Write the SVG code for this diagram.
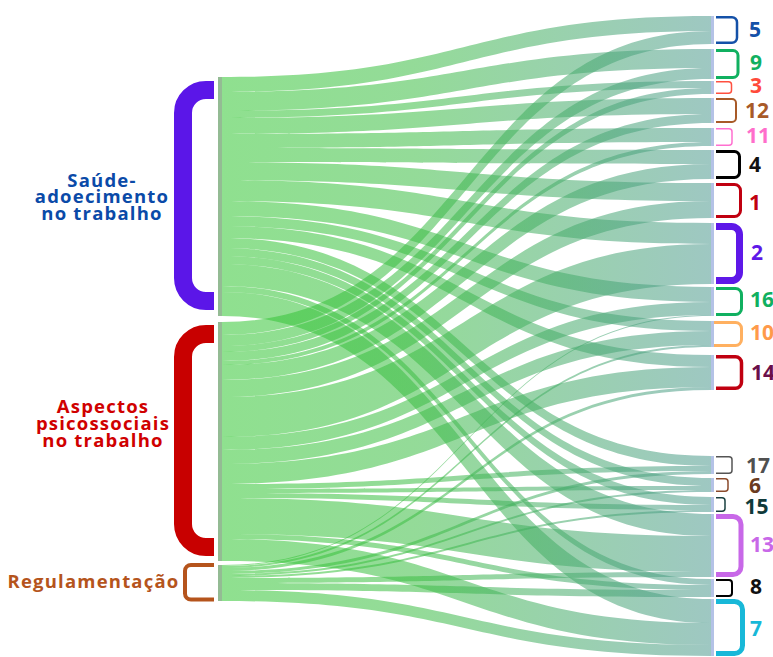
<svg xmlns="http://www.w3.org/2000/svg" width="773" height="657" viewBox="0 0 773 657">
<style>
.lk{fill:url(#lg);fill-opacity:0.55}
.lb{fill:#94bb94}
.rb{fill:#b4c2e6}
.br{fill:none;stroke-linecap:butt}
.t{font-family:"Open Sans","Noto Sans","Liberation Sans",sans-serif;font-weight:700}
.ll{font-size:18.5px;letter-spacing:1.2px;text-anchor:middle}
.rl{font-size:21px}
</style>
<defs>
<linearGradient id="lg" gradientUnits="userSpaceOnUse" x1="222" y1="0" x2="711" y2="0">
<stop offset="0" stop-color="#33c733"/>
<stop offset="0.4" stop-color="#3cbd44"/>
<stop offset="1" stop-color="#4f9a90"/>
</linearGradient>
</defs>
<g id="links">
<path class="lk" d="M222,77 C466.5,77 466.5,16 711,16 L711,31 C466.5,31 466.5,92 222,92 Z"/>
<path class="lk" d="M222,92 C466.5,92 466.5,49 711,49 L711,68 C466.5,68 466.5,111 222,111 Z"/>
<path class="lk" d="M222,111 C466.5,111 466.5,81 711,81 L711,88 C466.5,88 466.5,118 222,118 Z"/>
<path class="lk" d="M222,118 C466.5,118 466.5,98 711,98 L711,114 C466.5,114 466.5,134 222,134 Z"/>
<path class="lk" d="M222,134 C466.5,134 466.5,128 711,128 L711,142 C466.5,142 466.5,148 222,148 Z"/>
<path class="lk" d="M222,148 C466.5,148 466.5,150 711,150 L711,164 C466.5,164 466.5,162 222,162 Z"/>
<path class="lk" d="M222,162 C466.5,162 466.5,183 711,183 L711,201 C466.5,201 466.5,180 222,180 Z"/>
<path class="lk" d="M222,180 C466.5,180 466.5,223 711,223 L711,244 C466.5,244 466.5,201 222,201 Z"/>
<path class="lk" d="M222,201 C466.5,201 466.5,287 711,287 L711,302 C466.5,302 466.5,216 222,216 Z"/>
<path class="lk" d="M222,216 C466.5,216 466.5,321 711,321 L711,331 C466.5,331 466.5,226 222,226 Z"/>
<path class="lk" d="M222,226 C466.5,226 466.5,355 711,355 L711,367 C466.5,367 466.5,238 222,238 Z"/>
<path class="lk" d="M222,238 C466.5,238 466.5,456 711,456 L711,466 C466.5,466 466.5,248 222,248 Z"/>
<path class="lk" d="M222,248 C466.5,248 466.5,478 711,478 L711,486 C466.5,486 466.5,256 222,256 Z"/>
<path class="lk" d="M222,256 C466.5,256 466.5,497 711,497 L711,505 C466.5,505 466.5,264 222,264 Z"/>
<path class="lk" d="M222,264 C466.5,264 466.5,514 711,514 L711,536 C466.5,536 466.5,286 222,286 Z"/>
<path class="lk" d="M222,286 C466.5,286 466.5,579 711,579 L711,585 C466.5,585 466.5,292 222,292 Z"/>
<path class="lk" d="M222,292 C466.5,292 466.5,599 711,599 L711,623 C466.5,623 466.5,316 222,316 Z"/>
<path class="lk" d="M222,322 C466.5,322 466.5,31 711,31 L711,44 C466.5,44 466.5,335 222,335 Z"/>
<path class="lk" d="M222,335 C466.5,335 466.5,68 711,68 L711,79 C466.5,79 466.5,346 222,346 Z"/>
<path class="lk" d="M222,346 C466.5,346 466.5,88 711,88 L711,94 C466.5,94 466.5,352 222,352 Z"/>
<path class="lk" d="M222,352 C466.5,352 466.5,114 711,114 L711,123 C466.5,123 466.5,361 222,361 Z"/>
<path class="lk" d="M222,361 C466.5,361 466.5,142 711,142 L711,146 C466.5,146 466.5,365 222,365 Z"/>
<path class="lk" d="M222,365 C466.5,365 466.5,164 711,164 L711,179 C466.5,179 466.5,380 222,380 Z"/>
<path class="lk" d="M222,380 C466.5,380 466.5,201 711,201 L711,218 C466.5,218 466.5,397 222,397 Z"/>
<path class="lk" d="M222,397 C466.5,397 466.5,244 711,244 L711,284 C466.5,284 466.5,437 222,437 Z"/>
<path class="lk" d="M222,437 C466.5,437 466.5,302 711,302 L711,315 C466.5,315 466.5,450 222,450 Z"/>
<path class="lk" d="M222,450 C466.5,450 466.5,331 711,331 L711,345 C466.5,345 466.5,464 222,464 Z"/>
<path class="lk" d="M222,464 C466.5,464 466.5,367 711,367 L711,387 C466.5,387 466.5,484 222,484 Z"/>
<path class="lk" d="M222,484 C466.5,484 466.5,466 711,466 L711,471 C466.5,471 466.5,489 222,489 Z"/>
<path class="lk" d="M222,489 C466.5,489 466.5,486 711,486 L711,490 C466.5,490 466.5,493 222,493 Z"/>
<path class="lk" d="M222,493 C466.5,493 466.5,505 711,505 L711,510 C466.5,510 466.5,498 222,498 Z"/>
<path class="lk" d="M222,498 C466.5,498 466.5,536 711,536 L711,572 C466.5,572 466.5,534 222,534 Z"/>
<path class="lk" d="M222,534 C466.5,534 466.5,585 711,585 L711,590 C466.5,590 466.5,539 222,539 Z"/>
<path class="lk" d="M222,539 C466.5,539 466.5,623 711,623 L711,645 C466.5,645 466.5,561 222,561 Z"/>
<path class="lk" d="M222,565 C466.5,565 466.5,315 711,315 L711,316 C466.5,316 466.5,566 222,566 Z"/>
<path class="lk" d="M222,566 C466.5,566 466.5,345 711,345 L711,347 C466.5,347 466.5,568 222,568 Z"/>
<path class="lk" d="M222,568 C466.5,568 466.5,387 711,387 L711,390 C466.5,390 466.5,571 222,571 Z"/>
<path class="lk" d="M222,571 C466.5,571 466.5,471 711,471 L711,474 C466.5,474 466.5,574 222,574 Z"/>
<path class="lk" d="M222,574 C466.5,574 466.5,490 711,490 L711,492 C466.5,492 466.5,576 222,576 Z"/>
<path class="lk" d="M222,576 C466.5,576 466.5,510 711,510 L711,512 C466.5,512 466.5,578 222,578 Z"/>
<path class="lk" d="M222,578 C466.5,578 466.5,572 711,572 L711,577 C466.5,577 466.5,583 222,583 Z"/>
<path class="lk" d="M222,583 C466.5,583 466.5,590 711,590 L711,597 C466.5,597 466.5,590 222,590 Z"/>
<path class="lk" d="M222,590 C466.5,590 466.5,645 711,645 L711,656 C466.5,656 466.5,601 222,601 Z"/>
</g>
<g id="saude">
<rect class="lb" x="218" y="77" width="4" height="239"/>
<path class="br" stroke="#5b16e8" stroke-width="18" d="M214,90 H206 A23,23 0 0 0 183,113 V278 A23,23 0 0 0 206,301 H214"/>
<text class="t ll" fill="#0a4aa8"><tspan x="102" y="186.5">Saúde-</tspan><tspan x="102" y="203">adoecimento</tspan><tspan x="102" y="219.5">no trabalho</tspan></text>
</g>
<g id="aspectos">
<rect class="lb" x="218" y="322" width="4" height="239"/>
<path class="br" stroke="#c80000" stroke-width="18" d="M214,334 H206 A23,23 0 0 0 183,357 V524 A23,23 0 0 0 206,547 H214"/>
<text class="t ll" fill="#d00000"><tspan x="103" y="413">Aspectos</tspan><tspan x="103" y="430">psicossociais</tspan><tspan x="103" y="447">no trabalho</tspan></text>
</g>
<g id="regulamentacao">
<rect class="lb" x="218" y="565" width="4" height="36"/>
<path class="br" stroke="#b5541c" stroke-width="4" d="M214,565 H191 A6,6 0 0 0 185,571 V593.5 A6,6 0 0 0 191,599.5 H214"/>
<text class="t ll" fill="#b5541c" x="93.5" y="588">Regulamentação</text>
</g>
<g id="n5"><rect class="rb" x="711" y="16" width="3" height="28"/><path class="br" stroke="#1451a8" stroke-width="2.5" d="M716,17.25 H732 A5,5 0 0 1 737,22.25 V37.75 A5,5 0 0 1 732,42.75 H716"/><text class="t rl" fill="#1451a8" x="749" y="37" font-size="16">5</text></g>
<g id="n9"><rect class="rb" x="711" y="49" width="3" height="30"/><path class="br" stroke="#10b060" stroke-width="3" d="M716,50.5 H733 A5,5 0 0 1 738,55.5 V72.5 A5,5 0 0 1 733,77.5 H716"/><text class="t rl" fill="#10b060" x="750" y="70" font-size="18.5">9</text></g>
<g id="n3"><rect class="rb" x="711" y="81" width="3" height="13"/><path class="br" stroke="#ff5040" stroke-width="1.5" d="M716,81.75 H728.5 A3,3 0 0 1 731.5,84.75 V90.25 A3,3 0 0 1 728.5,93.25 H716"/><text class="t rl" fill="#ff4a3a" x="750" y="93" font-size="16">3</text></g>
<g id="n12"><rect class="rb" x="711" y="98" width="3" height="25"/><path class="br" stroke="#a85a28" stroke-width="2" d="M716,99 H732 A4,4 0 0 1 736,103 V118 A4,4 0 0 1 732,122 H716"/><text class="t rl" fill="#a85a28" x="745" y="118">12</text></g>
<g id="n11"><rect class="rb" x="711" y="128" width="3" height="18"/><path class="br" stroke="#ff70d0" stroke-width="1.5" d="M716,128.75 H729 A3,3 0 0 1 732,131.75 V142.25 A3,3 0 0 1 729,145.25 H716"/><text class="t rl" fill="#ff6ecb" x="746" y="143">11</text></g>
<g id="n4"><rect class="rb" x="711" y="150" width="3" height="29"/><path class="br" stroke="#000" stroke-width="3" d="M716,151.5 H734.5 A5,5 0 0 1 739.5,156.5 V172.5 A5,5 0 0 1 734.5,177.5 H716"/><text class="t rl" fill="#111" x="749" y="172">4</text></g>
<g id="n1"><rect class="rb" x="711" y="183" width="3" height="35"/><path class="br" stroke="#c00010" stroke-width="3" d="M716,184.5 H734.5 A6,6 0 0 1 740.5,190.5 V210.5 A6,6 0 0 1 734.5,216.5 H716"/><text class="t rl" fill="#c00010" x="749" y="210">1</text></g>
<g id="n2"><rect class="rb" x="711" y="223" width="3" height="61"/><path class="br" stroke="#5e18e8" stroke-width="7" d="M716,226.5 H731.5 A8,8 0 0 1 739.5,234.5 V272.5 A8,8 0 0 1 731.5,280.5 H716"/><text class="t rl" fill="#5e18e8" x="751" y="260" font-size="16.5">2</text></g>
<g id="n16"><rect class="rb" x="711" y="287" width="3" height="29"/><path class="br" stroke="#10b060" stroke-width="3" d="M716,288.5 H735.5 A6,6 0 0 1 741.5,294.5 V308.5 A6,6 0 0 1 735.5,314.5 H716"/><text class="t rl" fill="#10b060" x="750" y="307">16</text></g>
<g id="n10"><rect class="rb" x="711" y="321" width="3" height="26"/><path class="br" stroke="#ffb060" stroke-width="3" d="M714,322.5 H735.5 A6,6 0 0 1 741.5,328.5 V339.5 A6,6 0 0 1 735.5,345.5 H714"/><text class="t rl" fill="#ff9a4a" x="750" y="340">10</text></g>
<g id="n14"><rect class="rb" x="711" y="355" width="3" height="35"/><path class="br" stroke="#c00010" stroke-width="3.5" d="M716,356.75 H735.5 A6,6 0 0 1 741.5,362.75 V382.25 A6,6 0 0 1 735.5,388.25 H716"/><text class="t rl" fill="#6a0f4a" x="751" y="380">14</text></g>
<g id="n17"><rect class="rb" x="711" y="456" width="3" height="18"/><path class="br" stroke="#555" stroke-width="1.5" d="M716,456.75 H729 A3,3 0 0 1 732,459.75 V470.25 A3,3 0 0 1 729,473.25 H716"/><text class="t rl" fill="#505050" x="746" y="473" font-size="20">17</text></g>
<g id="n6"><rect class="rb" x="711" y="478" width="3" height="14"/><path class="br" stroke="#8b4a2b" stroke-width="1.5" d="M716,478.75 H725 A3,3 0 0 1 728,481.75 V488.25 A3,3 0 0 1 725,491.25 H716"/><text class="t rl" fill="#6b3b20" x="749" y="493" font-size="18.5">6</text></g>
<g id="n15"><rect class="rb" x="711" y="497" width="3" height="15"/><path class="br" stroke="#1a4040" stroke-width="1.5" d="M716,497.75 H722 A3,3 0 0 1 725,500.75 V508.25 A3,3 0 0 1 722,511.25 H716"/><text class="t rl" fill="#103a3a" x="744.5" y="514" font-size="20.5">15</text></g>
<g id="n13"><rect class="rb" x="711" y="514" width="3" height="63"/><path class="br" stroke="#c868e8" stroke-width="5" d="M716,516.5 H733 A8,8 0 0 1 741,524.5 V566.5 A8,8 0 0 1 733,574.5 H716"/><text class="t rl" fill="#c868e8" x="750" y="552" font-size="20">13</text></g>
<g id="n8"><rect class="rb" x="711" y="579" width="3" height="18"/><path class="br" stroke="#000" stroke-width="2" d="M716,580 H729 A3,3 0 0 1 732,583 V593 A3,3 0 0 1 729,596 H716"/><text class="t rl" fill="#111" x="750" y="594" font-size="19.5">8</text></g>
<g id="n7"><rect class="rb" x="711" y="599" width="3" height="57"/><path class="br" stroke="#18b8d8" stroke-width="5" d="M716,601.5 H734.5 A8,8 0 0 1 742.5,609.5 V645.5 A8,8 0 0 1 734.5,653.5 H716"/><text class="t rl" fill="#18b8d8" x="750" y="636" font-size="20">7</text></g>
</svg>
